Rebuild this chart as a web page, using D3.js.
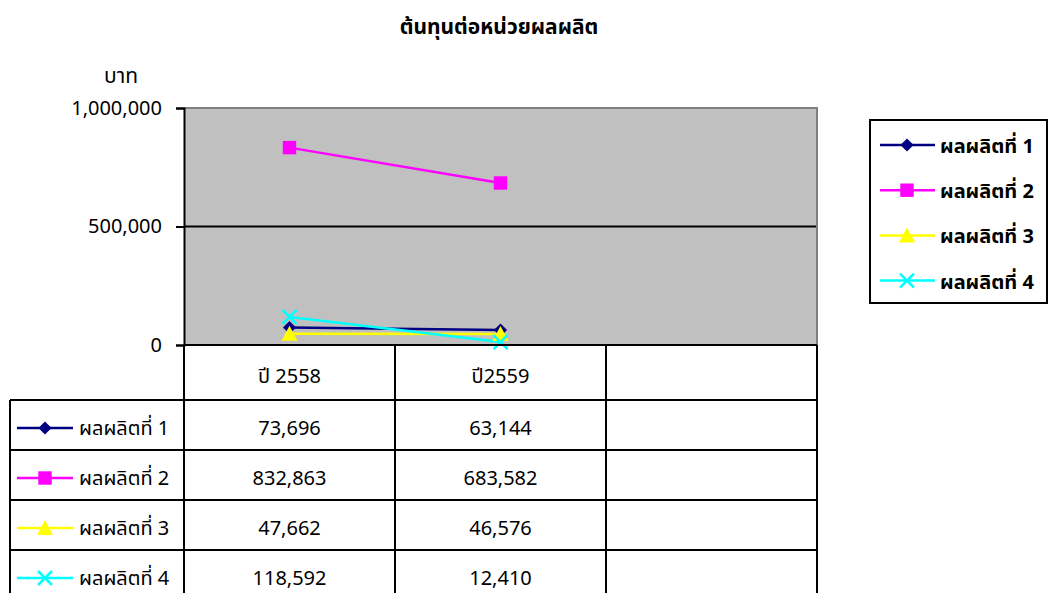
<!DOCTYPE html>
<html>
<head>
<meta charset="utf-8">
<script src="https://cdn.jsdelivr.net/npm/d3@7"></script>
<style>
  body { margin: 0; background: #fff; }
  text { font-family: Tahoma, "Noto Sans Thai", "Noto Sans", sans-serif; fill: #000; }
</style>
</head>
<body>
<div id="chart"></div>
<script>
var width = 1048,
    height = 593;

// data
var categories = ["ปี 2558", "ปี2559", ""];
var seriesNames = ["ผลผลิตที่ 1", "ผลผลิตที่ 2", "ผลผลิตที่ 3", "ผลผลิตที่ 4"];
var values1 = [73696, 63144];
var values2 = [832863, 683582];
var values3 = [47662, 46576];
var values4 = [118592, 12410];
var yTicks = [0, 500000, 1000000];

var allValues = [values1, values2, values3, values4];
var colors = ["#000080", "#FF00FF", "#FFFF00", "#00FFFF"];
var markers = ["diamond", "square", "triangle", "cross"];

var svg = d3.select("#chart").append("svg")
    .attr("width", width)
    .attr("height", height);

var plotLeft = 184, plotRight = 817, plotTop = 108, plotBottom = 345;

var x = d3.scaleBand()
    .domain(d3.range(categories.length))
    .range([plotLeft, plotRight]);

var y = d3.scaleLinear()
    .domain([0, 1000000])
    .range([plotBottom, plotTop]);

var fmt = d3.format(",");

// title
svg.append("text")
    .attr("x", 499)
    .attr("y", 34)
    .attr("text-anchor", "middle")
    .attr("font-size", "21px")
    .attr("font-weight", "bold")
    .text("ต้นทุนต่อหน่วยผลผลิต");

// y axis title
svg.append("text")
    .attr("x", 121)
    .attr("y", 83)
    .attr("text-anchor", "middle")
    .attr("font-size", "21px")
    .text("บาท");

// plot area
svg.append("rect")
    .attr("x", plotLeft)
    .attr("y", plotTop)
    .attr("width", plotRight - plotLeft)
    .attr("height", plotBottom - plotTop)
    .attr("fill", "#C0C0C0");

// gridlines
svg.selectAll(".grid")
    .data(yTicks.filter(function(d) { return d > 0 && d < 1000000; }))
    .enter().append("line")
    .attr("x1", plotLeft)
    .attr("x2", plotRight)
    .attr("y1", function(d) { return y(d); })
    .attr("y2", function(d) { return y(d); })
    .attr("stroke", "#000")
    .attr("stroke-width", 2);

// top and right border of plot
svg.append("polyline")
    .attr("points", [[plotLeft, plotTop], [plotRight, plotTop], [plotRight, plotBottom]].join(" "))
    .attr("fill", "none")
    .attr("stroke", "#808080")
    .attr("stroke-width", 2);

// y axis
var yAxis = svg.append("g")
    .attr("transform", "translate(" + plotLeft + ",0)")
    .call(d3.axisLeft(y).tickValues(yTicks).tickFormat(fmt).tickSize(8).tickPadding(14));
yAxis.select(".domain").attr("stroke", "#000").attr("stroke-width", 2);
yAxis.selectAll(".tick line").attr("stroke", "#000").attr("stroke-width", 2);
yAxis.selectAll(".tick text")
    .attr("font-size", "20px")
    .attr("font-family", "Tahoma, 'Noto Sans Thai', 'Noto Sans', sans-serif")
    .attr("fill", "#000");

// marker shapes
function markerPath(type) {
    if (type == "diamond") return d3.symbol().type(d3.symbolDiamond2).size(110)();
    if (type == "square") return d3.symbol().type(d3.symbolSquare).size(180)();
    if (type == "triangle") return "M0,-8L8,7L-8,7Z";
    return "M-7,-7L7,7M-7,7L7,-7";
}

function drawMarker(g, type, color, cx, cy) {
    var p = g.append("path")
        .attr("d", markerPath(type))
        .attr("transform", "translate(" + cx + "," + cy + ")");
    if (type == "cross") {
        p.attr("fill", "none").attr("stroke", color).attr("stroke-width", 2.5);
    } else {
        p.attr("fill", color);
    }
}

var line = d3.line()
    .x(function(d, i) { return x(i) + x.bandwidth() / 2; })
    .y(function(d) { return y(d); });

// series lines then markers
allValues.forEach(function(vals, s) {
    svg.append("path")
        .datum(vals)
        .attr("d", line)
        .attr("fill", "none")
        .attr("stroke", colors[s])
        .attr("stroke-width", 2.5);
});
allValues.forEach(function(vals, s) {
    vals.forEach(function(v, i) {
        drawMarker(svg, markers[s], colors[s], x(i) + x.bandwidth() / 2, y(v));
    });
});

// data table
var headerBottom = 400, rowH = 50, tableLeft = 10;
var table = svg.append("g");

// column vertical lines
var colLines = d3.range(categories.length + 1).map(function(i) {
    return i < categories.length ? x(i) : plotRight;
});
table.selectAll(".vline")
    .data(colLines)
    .enter().append("line")
    .attr("x1", function(d) { return d; })
    .attr("x2", function(d) { return d; })
    .attr("y1", plotBottom)
    .attr("y2", height + 5)
    .attr("stroke", "#000")
    .attr("stroke-width", 2);

table.append("line")
    .attr("x1", tableLeft).attr("x2", tableLeft)
    .attr("y1", headerBottom).attr("y2", height + 5)
    .attr("stroke", "#000").attr("stroke-width", 2);

// horizontal lines
table.append("line")
    .attr("x1", plotLeft).attr("x2", plotRight)
    .attr("y1", plotBottom).attr("y2", plotBottom)
    .attr("stroke", "#000").attr("stroke-width", 2);
table.selectAll(".hline")
    .data(d3.range(seriesNames.length))
    .enter().append("line")
    .attr("x1", tableLeft)
    .attr("x2", plotRight)
    .attr("y1", function(i) { return headerBottom + i * rowH; })
    .attr("y2", function(i) { return headerBottom + i * rowH; })
    .attr("stroke", "#000")
    .attr("stroke-width", 2);

// header labels
table.selectAll(".cat")
    .data(categories)
    .enter().append("text")
    .attr("x", function(d, i) { return x(i) + x.bandwidth() / 2; })
    .attr("y", 383)
    .attr("text-anchor", "middle")
    .attr("font-size", "20px")
    .text(function(d) { return d; });

// rows
seriesNames.forEach(function(name, s) {
    var cy = headerBottom + s * rowH + rowH / 2;
    table.append("line")
        .attr("x1", 17).attr("x2", 73)
        .attr("y1", cy + 3).attr("y2", cy + 3)
        .attr("stroke", colors[s]).attr("stroke-width", 2.5);
    drawMarker(table, markers[s], colors[s], 45, cy + 3);
    table.append("text")
        .attr("x", 79)
        .attr("y", cy + 10)
        .attr("font-size", "20px")
        .text(name);
    allValues[s].forEach(function(v, i) {
        table.append("text")
            .attr("x", x(i) + x.bandwidth() / 2)
            .attr("y", cy + 10)
            .attr("text-anchor", "middle")
            .attr("font-size", "20px")
            .text(fmt(v));
    });
});

// legend
var legend = svg.append("g");
legend.append("rect")
    .attr("x", 870)
    .attr("y", 120)
    .attr("width", 177)
    .attr("height", 183)
    .attr("fill", "#fff")
    .attr("stroke", "#000")
    .attr("stroke-width", 2);

seriesNames.forEach(function(name, s) {
    var ly = 145 + s * 45.2;
    legend.append("line")
        .attr("x1", 880).attr("x2", 935)
        .attr("y1", ly).attr("y2", ly)
        .attr("stroke", colors[s]).attr("stroke-width", 2.5);
    drawMarker(legend, markers[s], colors[s], 907, ly);
    legend.append("text")
        .attr("x", 940)
        .attr("y", ly + 8)
        .attr("font-size", "20px")
        .attr("font-weight", "bold")
        .text(name);
});
</script>
</body>
</html>
